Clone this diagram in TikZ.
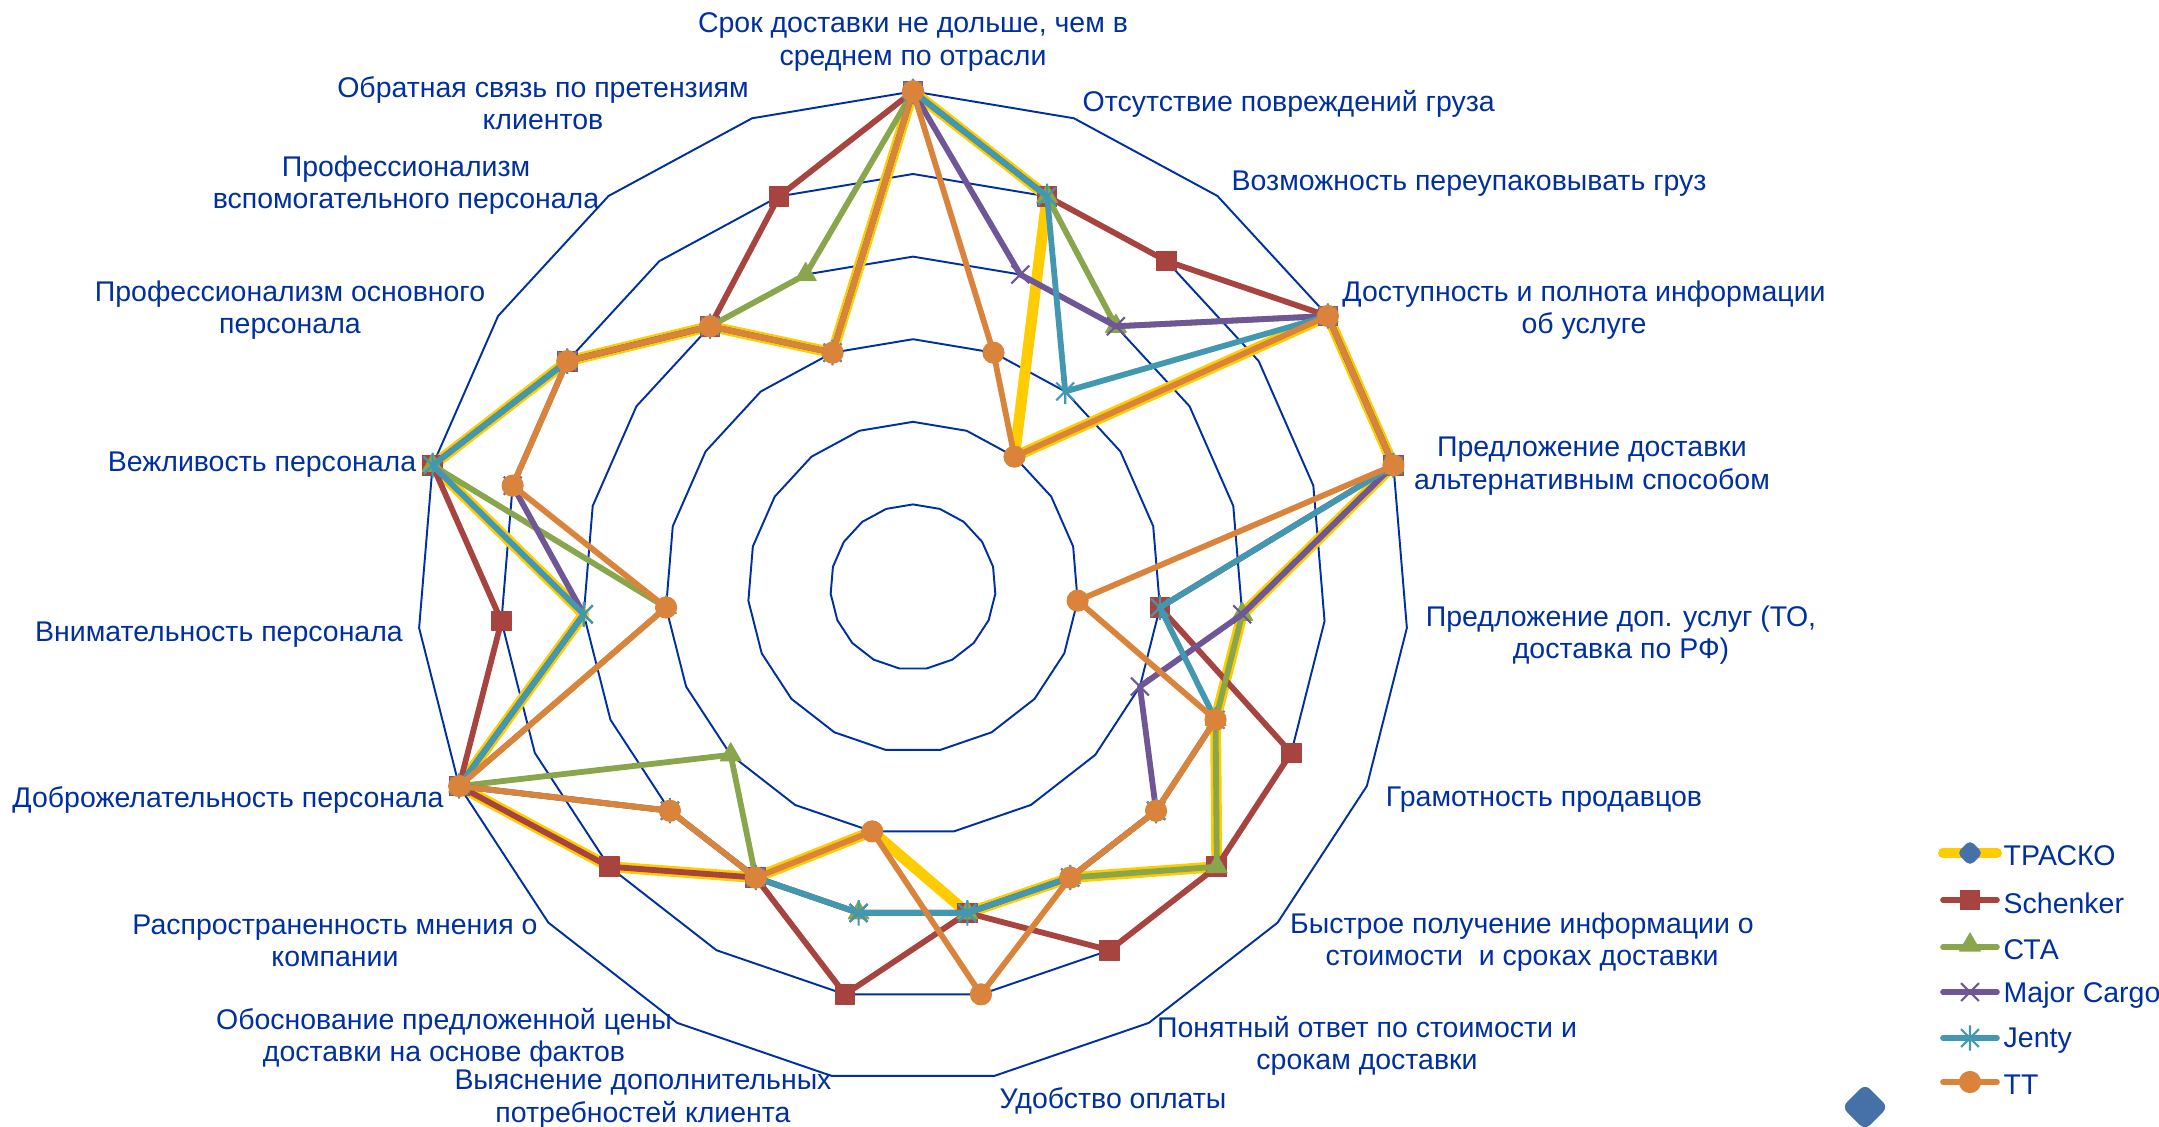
\documentclass[tikz,border=0pt]{standalone}
\usepackage{fontspec}
\setmainfont{Liberation Sans}
\usetikzlibrary{plotmarks}
\definecolor{ink}{RGB}{0,48,160}
\definecolor{trk}{RGB}{255,204,0}
\definecolor{sch}{RGB}{168,68,64}
\definecolor{cta}{RGB}{138,166,76}
\definecolor{mcg}{RGB}{111,86,150}
\definecolor{jen}{RGB}{65,152,176}
\definecolor{ttc}{RGB}{218,131,58}
\definecolor{dia}{RGB}{69,112,168}
\pgfdeclareplotmark{jstar}{%
  \pgfpathmoveto{\pgfqpoint{-.707\pgfplotmarksize}{-.707\pgfplotmarksize}}%
  \pgfpathlineto{\pgfqpoint{.707\pgfplotmarksize}{.707\pgfplotmarksize}}%
  \pgfpathmoveto{\pgfqpoint{-.707\pgfplotmarksize}{.707\pgfplotmarksize}}%
  \pgfpathlineto{\pgfqpoint{.707\pgfplotmarksize}{-.707\pgfplotmarksize}}%
  \pgfpathmoveto{\pgfqpoint{0pt}{-\pgfplotmarksize}}%
  \pgfpathlineto{\pgfqpoint{0pt}{\pgfplotmarksize}}%
  \pgfusepathqstroke}
\tikzset{
  lbl/.style={text=ink, font=\fontsize{8.1pt}{9.2pt}\selectfont, align=center, inner sep=0pt},
  ringline/.style={ink, line width=0.55pt},
  serline/.style={line width=1.65pt},
  sqmk/.style={mark=square*, mark size=2.8pt, mark options={line width=0.3pt}},
  trmk/.style={mark=triangle*, mark size=3.4pt, mark options={line width=0.3pt}},
  xxmk/.style={mark=x, mark size=3.6pt, mark options={line width=0.6pt, line cap=butt}},
  stmk/.style={mark=jstar, mark size=3.6pt, mark options={line width=0.6pt, line cap=butt}},
  cimk/.style={mark=*, mark size=3pt, mark options={line width=0.3pt}},
}
\begin{document}
\begin{tikzpicture}[x=0.01cm,y=-0.01cm, line join=round, line cap=round]
\useasboundingbox (0,0) rectangle (2159,1126);
\begin{scope}[shift={(913,587)}, y=0.01cm]
% rings
\draw[ringline] (90:82.6) -- (71.053:82.6) -- (52.105:82.6) -- (33.158:82.6) -- (14.211:82.6) -- (-4.737:82.6) -- (-23.684:82.6) -- (-42.632:82.6) -- (-61.579:82.6) -- (-80.526:82.6) -- (-99.474:82.6) -- (-118.421:82.6) -- (-137.368:82.6) -- (-156.316:82.6) -- (-175.263:82.6) -- (-194.211:82.6) -- (-213.158:82.6) -- (-232.105:82.6) -- (-251.053:82.6) -- cycle;
\draw[ringline] (90:165.2) -- (71.053:165.2) -- (52.105:165.2) -- (33.158:165.2) -- (14.211:165.2) -- (-4.737:165.2) -- (-23.684:165.2) -- (-42.632:165.2) -- (-61.579:165.2) -- (-80.526:165.2) -- (-99.474:165.2) -- (-118.421:165.2) -- (-137.368:165.2) -- (-156.316:165.2) -- (-175.263:165.2) -- (-194.211:165.2) -- (-213.158:165.2) -- (-232.105:165.2) -- (-251.053:165.2) -- cycle;
\draw[ringline] (90:247.8) -- (71.053:247.8) -- (52.105:247.8) -- (33.158:247.8) -- (14.211:247.8) -- (-4.737:247.8) -- (-23.684:247.8) -- (-42.632:247.8) -- (-61.579:247.8) -- (-80.526:247.8) -- (-99.474:247.8) -- (-118.421:247.8) -- (-137.368:247.8) -- (-156.316:247.8) -- (-175.263:247.8) -- (-194.211:247.8) -- (-213.158:247.8) -- (-232.105:247.8) -- (-251.053:247.8) -- cycle;
\draw[ringline] (90:330.4) -- (71.053:330.4) -- (52.105:330.4) -- (33.158:330.4) -- (14.211:330.4) -- (-4.737:330.4) -- (-23.684:330.4) -- (-42.632:330.4) -- (-61.579:330.4) -- (-80.526:330.4) -- (-99.474:330.4) -- (-118.421:330.4) -- (-137.368:330.4) -- (-156.316:330.4) -- (-175.263:330.4) -- (-194.211:330.4) -- (-213.158:330.4) -- (-232.105:330.4) -- (-251.053:330.4) -- cycle;
\draw[ringline] (90:413) -- (71.053:413) -- (52.105:413) -- (33.158:413) -- (14.211:413) -- (-4.737:413) -- (-23.684:413) -- (-42.632:413) -- (-61.579:413) -- (-80.526:413) -- (-99.474:413) -- (-118.421:413) -- (-137.368:413) -- (-156.316:413) -- (-175.263:413) -- (-194.211:413) -- (-213.158:413) -- (-232.105:413) -- (-251.053:413) -- cycle;
\draw[ringline] (90:495.6) -- (71.053:495.6) -- (52.105:495.6) -- (33.158:495.6) -- (14.211:495.6) -- (-4.737:495.6) -- (-23.684:495.6) -- (-42.632:495.6) -- (-61.579:495.6) -- (-80.526:495.6) -- (-99.474:495.6) -- (-118.421:495.6) -- (-137.368:495.6) -- (-156.316:495.6) -- (-175.263:495.6) -- (-194.211:495.6) -- (-213.158:495.6) -- (-232.105:495.6) -- (-251.053:495.6) -- cycle;
% TRACKO
\draw[trk, line width=3.1pt] plot coordinates {(90:495.6) (71.053:413) (52.105:165.2) (33.158:495.6) (14.211:495.6) (-4.737:330.4) (-23.684:330.4) (-42.632:413) (-61.579:330.4) (-80.526:330.4) (-99.474:247.8) (-118.421:330.4) (-137.368:413) (-156.316:495.6) (-175.263:330.4) (-194.211:495.6) (-213.158:413) (-232.105:330.4) (-251.053:247.8) (90:495.6)};
% Schenker
\draw[sch, serline, sqmk] plot coordinates {(90:495.6) (71.053:413) (52.105:413) (33.158:495.6) (14.211:495.6) (-4.737:247.8) (-23.684:413) (-42.632:413) (-61.579:413) (-80.526:330.4) (-99.474:413) (-118.421:330.4) (-137.368:413) (-156.316:495.6) (-175.263:413) (-194.211:495.6) (-213.158:413) (-232.105:330.4) (-251.053:413) (90:495.6)};
% CTA
\draw[cta, serline, trmk] plot coordinates {(90:495.6) (71.053:413) (52.105:330.4) (33.158:495.6) (14.211:495.6) (-4.737:330.4) (-23.684:330.4) (-42.632:413) (-61.579:330.4) (-80.526:330.4) (-99.474:330.4) (-118.421:330.4) (-137.368:247.8) (-156.316:495.6) (-175.263:247.8) (-194.211:495.6) (-213.158:413) (-232.105:330.4) (-251.053:330.4) (90:495.6)};
% Major Cargo
\draw[mcg, serline, xxmk] plot coordinates {(90:495.6) (71.053:330.4) (52.105:330.4) (33.158:495.6) (14.211:495.6) (-4.737:330.4) (-23.684:247.8) (-42.632:330.4) (-61.579:330.4) (-80.526:330.4) (-99.474:330.4) (-118.421:330.4) (-137.368:330.4) (-156.316:495.6) (-175.263:330.4) (-194.211:413) (-213.158:413) (-232.105:330.4) (-251.053:247.8) (90:495.6)};
% Jenty
\draw[jen, serline, stmk] plot coordinates {(90:495.6) (71.053:413) (52.105:247.8) (33.158:495.6) (14.211:495.6) (-4.737:247.8) (-23.684:330.4) (-42.632:330.4) (-61.579:330.4) (-80.526:330.4) (-99.474:330.4) (-118.421:330.4) (-137.368:330.4) (-156.316:495.6) (-175.263:330.4) (-194.211:495.6) (-213.158:413) (-232.105:330.4) (-251.053:247.8) (90:495.6)};
% TT
\draw[ttc, serline, cimk] plot coordinates {(90:495.6) (71.053:247.8) (52.105:165.2) (33.158:495.6) (14.211:495.6) (-4.737:165.2) (-23.684:330.4) (-42.632:330.4) (-61.579:330.4) (-80.526:413) (-99.474:247.8) (-118.421:330.4) (-137.368:330.4) (-156.316:495.6) (-175.263:247.8) (-194.211:413) (-213.158:413) (-232.105:330.4) (-251.053:247.8) (90:495.6)};
\end{scope}
% axis labels
\path (913,42) node[lbl] (L0) {Срок доставки не дольше, чем в\\среднем по отрасли};
\path (1082,104) node[lbl, anchor=west] (L1) {Отсутствие повреждений груза};
\path (1231,184) node[lbl, anchor=west] (L2) {Возможность переупаковывать груз};
\path (1584,310) node[lbl] (L3) {Доступность и полнота информации\\об услуге};
\path (1592,466) node[lbl] (L4) {Предложение доставки\\альтернативным способом};
\path (1621,635) node[lbl] (L5) {Предложение доп. услуг (ТО,\\доставка по РФ)};
\path (1544,800) node[lbl] (L6) {Грамотность продавцов};
\path (1522,942) node[lbl] (L7) {Быстрое получение информации о\\стоимости\ \ и сроках доставки};
\path (1367,1046) node[lbl] (L8) {Понятный ответ по стоимости и\\срокам доставки};
\path (1113,1101) node[lbl] (L9) {Удобство оплаты};
\path (643,1099) node[lbl] (L10) {Выяснение дополнительных\\потребностей клиента};
\path (444,1038) node[lbl] (L11) {Обоснование предложенной цены\\доставки на основе фактов};
\path (335,941) node[lbl] (L12) {Распространенность мнения о\\компании};
\path (228,800) node[lbl] (L13) {Доброжелательность персонала};
\path (219,635) node[lbl] (L14) {Внимательность персонала};
\path (262,465) node[lbl] (L15) {Вежливость персонала};
\path (290,310) node[lbl] (L16) {Профессионализм основного\\персонала};
\path (406,185) node[lbl] (L17) {Профессионализм\\вспомогательного персонала};
\path (543,103) node[lbl] (L18) {Обратная связь по претензиям\\клиентов};
% legend
\draw[trk, line width=2.85pt] (1943,853) -- (1997,853);
\fill[dia, rounded corners=1.5pt] (1970,840) -- (1983,853) -- (1970,866) -- (1957,853) -- cycle;
\path (2003,856) node[lbl, anchor=west] (G1) {ТРАСКО};
\draw[sch, line width=1.6pt] (1943,900) -- (1997,900);
\draw[sch, sqmk] plot[only marks] coordinates {(1970,900)};
\path (2003,903) node[lbl, anchor=west] (G2) {Schenker};
\draw[cta, line width=1.6pt] (1943,947) -- (1997,947);
\draw[cta, trmk] plot[only marks] coordinates {(1970,945)};
\path (2003,950) node[lbl, anchor=west] (G3) {СТА};
\draw[mcg, line width=1.6pt] (1943,992) -- (1997,992);
\draw[mcg, xxmk] plot[only marks] coordinates {(1970,992)};
\path (2003,995) node[lbl, anchor=west] (G4) {Major Cargo};
\draw[jen, line width=1.6pt] (1943,1038) -- (1997,1038);
\draw[jen, stmk] plot[only marks] coordinates {(1970,1038)};
\path (2003,1041) node[lbl, anchor=west] (G5) {Jenty};
\draw[ttc, line width=1.6pt] (1943,1082) -- (1997,1082);
\draw[ttc, cimk] plot[only marks] coordinates {(1970,1082)};
\path (2003,1085) node[lbl, anchor=west] (G6) {ТТ};
% stray marker
\fill[dia, rounded corners=2pt] (1865,1084) -- (1888,1107) -- (1865,1130) -- (1842,1107) -- cycle;
\end{tikzpicture}
\end{document}
